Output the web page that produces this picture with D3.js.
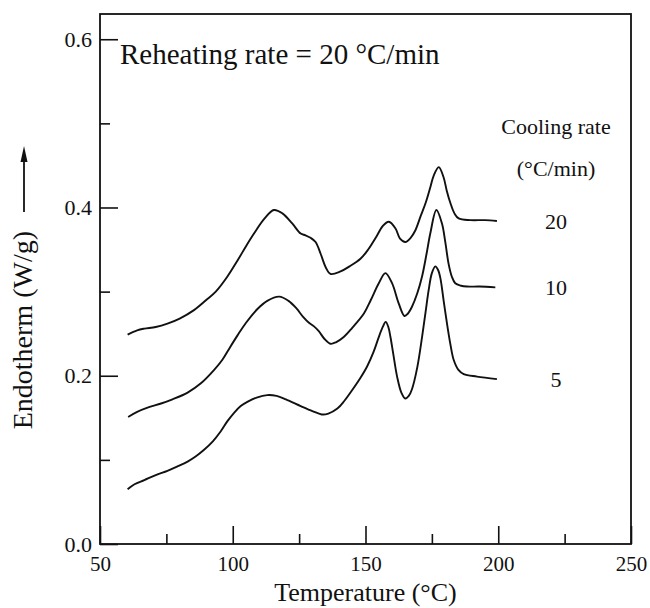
<!DOCTYPE html>
<html>
<head>
<meta charset="utf-8">
<script src="https://cdn.jsdelivr.net/npm/d3@7"></script>
<style>
  html, body { margin: 0; padding: 0; background: #fff; }
  svg { display: block; }
  text { font-family: "Liberation Serif", "Times New Roman", serif; fill: #111; }
</style>
</head>
<body>
<svg id="chart" width="650" height="608"></svg>
<script>
// DSC reheating traces (endotherm up), one per prior cooling rate
const temp20 = [60.4, 64, 66.7, 71, 75.4, 80, 85.4, 90, 93.6, 98, 101.8, 105, 108, 112, 115.5, 118.7, 122.4, 125.6, 127.4, 129.3, 131.2, 133.1, 135, 136.8, 140.6, 144, 148.1, 151, 154.4, 156.5, 158.8, 161.3, 163, 165, 167, 168.8, 170.8, 172.6, 174.5, 175.7, 177.6, 179.4, 180.6, 182, 183.5, 185.1, 189.5, 195, 199.5];
const endo20 = [0.249, 0.254, 0.256, 0.258, 0.262, 0.268, 0.278, 0.290, 0.300, 0.318, 0.337, 0.354, 0.369, 0.387, 0.397, 0.393, 0.381, 0.369, 0.367, 0.364, 0.359, 0.345, 0.329, 0.321, 0.324, 0.330, 0.339, 0.350, 0.367, 0.378, 0.383, 0.375, 0.363, 0.359, 0.364, 0.373, 0.390, 0.405, 0.425, 0.438, 0.448, 0.436, 0.420, 0.405, 0.393, 0.387, 0.385, 0.385, 0.384];

const temp10 = [60.6, 64, 67.9, 73, 77.3, 83, 88, 93, 96.1, 99, 101.8, 105, 109.2, 113, 117.5, 121, 124, 126.5, 128.7, 130.5, 132.4, 134.5, 136.8, 139, 141.8, 145, 149.4, 152, 155, 157.5, 160, 162.5, 164.7, 166, 167.5, 169.5, 171.3, 173, 174.4, 176.7, 178.8, 180, 181.3, 182.5, 183.8, 186, 188.2, 193, 198.9];
const endo10 = [0.151, 0.157, 0.162, 0.167, 0.172, 0.180, 0.191, 0.207, 0.219, 0.234, 0.248, 0.263, 0.279, 0.289, 0.294, 0.289, 0.280, 0.270, 0.263, 0.259, 0.253, 0.244, 0.238, 0.240, 0.246, 0.257, 0.274, 0.290, 0.310, 0.322, 0.310, 0.286, 0.271, 0.274, 0.282, 0.298, 0.318, 0.345, 0.369, 0.397, 0.381, 0.360, 0.333, 0.318, 0.310, 0.307, 0.306, 0.306, 0.305];

const temp5 = [60.4, 63, 66.7, 71, 75.4, 79, 83, 86, 89.2, 92.5, 95.5, 98, 100.5, 103, 105.5, 109, 113, 116.5, 120, 125.6, 130, 133.5, 136, 139.4, 142, 145, 148, 150.6, 153, 155, 156.5, 157.6, 158.6, 159.4, 160.5, 161.9, 163.5, 165, 166.3, 167.5, 169.5, 171.3, 172.6, 173.8, 175, 176.3, 177.3, 178.2, 179.4, 180.7, 182, 183.2, 185, 187, 192, 199.5];
const endo5 = [0.065, 0.071, 0.076, 0.082, 0.087, 0.092, 0.098, 0.104, 0.112, 0.122, 0.134, 0.146, 0.156, 0.164, 0.169, 0.174, 0.177, 0.176, 0.172, 0.164, 0.158, 0.154, 0.155, 0.161, 0.170, 0.183, 0.197, 0.211, 0.228, 0.246, 0.258, 0.264, 0.258, 0.246, 0.225, 0.199, 0.180, 0.173, 0.176, 0.184, 0.210, 0.246, 0.275, 0.302, 0.322, 0.330, 0.326, 0.316, 0.290, 0.262, 0.237, 0.219, 0.207, 0.202, 0.199, 0.196];

const coolingRates = ["20", "10", "5"];
const xMajorTicks = [50, 100, 150, 200, 250];
const xMinorTicks = [75, 125, 175, 225];
const yMajorTicks = [0.0, 0.2, 0.4, 0.6];
const yMinorTicks = [0.1, 0.3, 0.5];

const series = [
  { rate: coolingRates[0], t: temp20, v: endo20 },
  { rate: coolingRates[1], t: temp10, v: endo10 },
  { rate: coolingRates[2], t: temp5, v: endo5 }
];

const svg = d3.select("#chart");
const plotLeft = 100, plotRight = 631, plotTop = 14, plotBottom = 544;

const x = d3.scaleLinear().domain([50, 250]).range([plotLeft, plotRight]);
const y = d3.scaleLinear().domain([0, 0.63]).range([plotBottom, plotTop]);

// plot frame
svg.append("rect")
  .attr("x", plotLeft).attr("y", plotTop)
  .attr("width", plotRight - plotLeft).attr("height", plotBottom - plotTop)
  .attr("fill", "none").attr("stroke", "#111").attr("stroke-width", 1.8);

// inward ticks
function styleAxis(g) {
  g.select(".domain").remove();
  g.selectAll(".tick line").attr("stroke", "#111").attr("stroke-width", 1.6);
  g.selectAll(".tick text").attr("fill", "#111").style("font-family", '"Liberation Serif", serif');
}

svg.append("g").attr("transform", `translate(${plotLeft},0)`)
  .call(d3.axisLeft(y).tickValues(yMajorTicks).tickSize(-18).tickPadding(8)
    .tickFormat(d3.format(".1f")))
  .call(styleAxis)
  .call(g => g.selectAll(".tick text").style("font-size", "22px"));

svg.append("g").attr("transform", `translate(${plotLeft},0)`)
  .call(d3.axisLeft(y).tickValues(yMinorTicks).tickSize(-10).tickFormat(""))
  .call(styleAxis);

svg.append("g").attr("transform", `translate(0,${plotBottom})`)
  .call(d3.axisBottom(x).tickValues(xMajorTicks).tickSize(-18).tickPadding(12)
    .tickFormat(d3.format("d")))
  .call(styleAxis)
  .call(g => g.selectAll(".tick text").style("font-size", "21px"));

svg.append("g").attr("transform", `translate(0,${plotBottom})`)
  .call(d3.axisBottom(x).tickValues(xMinorTicks).tickSize(-10).tickFormat(""))
  .call(styleAxis);

// traces
const line = d3.line()
  .x(d => x(d[0]))
  .y(d => y(d[1]))
  .curve(d3.curveCatmullRom.alpha(0.5));

series.forEach(s => {
  const pts = s.t.map((t, i) => [t, s.v[i]]);
  svg.append("path")
    .datum(pts)
    .attr("d", line)
    .attr("fill", "none")
    .attr("stroke", "#111")
    .attr("stroke-width", 1.9)
    .attr("stroke-linejoin", "round");

  const last = pts[pts.length - 1];
  svg.append("text")
    .attr("x", 556).attr("y", y(last[1]))
    .attr("dy", "0.35em")
    .attr("text-anchor", "middle")
    .style("font-size", "22px")
    .text(s.rate);
});

// annotations
svg.append("text")
  .attr("x", 120).attr("y", 64)
  .style("font-size", "29px")
  .text("Reheating rate = 20 °C/min");

svg.append("text")
  .attr("x", 556).attr("y", 134)
  .attr("text-anchor", "middle")
  .style("font-size", "22px")
  .text("Cooling rate");

svg.append("text")
  .attr("x", 556).attr("y", 176)
  .attr("text-anchor", "middle")
  .style("font-size", "22px")
  .text("(°C/min)");

// axis titles
svg.append("text")
  .attr("x", x(150)).attr("y", 601)
  .attr("text-anchor", "middle")
  .style("font-size", "26px")
  .text("Temperature (°C)");

svg.append("text")
  .attr("transform", "translate(32,231) rotate(-90)")
  .attr("text-anchor", "end")
  .style("font-size", "28px")
  .text("Endotherm (W/g)");

// upward arrow beside the y title
svg.append("line")
  .attr("x1", 24).attr("x2", 24)
  .attr("y1", 212).attr("y2", 158)
  .attr("stroke", "#111").attr("stroke-width", 1.8);
svg.append("path")
  .attr("d", "M24,146 L20.5,162 L27.5,162 Z")
  .attr("fill", "#111");
</script>
</body>
</html>
